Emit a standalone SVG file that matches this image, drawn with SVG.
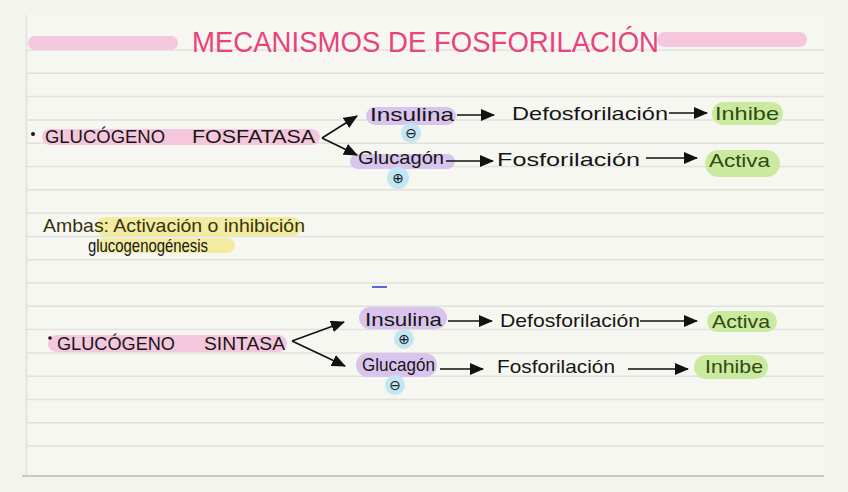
<svg xmlns="http://www.w3.org/2000/svg" width="848" height="492" viewBox="0 0 848 492">
<defs>
<marker id="ah" markerUnits="userSpaceOnUse" markerWidth="14" markerHeight="12" refX="13" refY="6" orient="auto">
<path d="M0,0 L14,6 L0,12 z" fill="#111"/>
</marker>
<style>
.t{font-family:"Liberation Sans","DejaVu Sans",sans-serif;font-size:19px;fill:#161616}
.title{font-family:"Liberation Sans","DejaVu Sans",sans-serif;font-size:29px;fill:#e8437c}
.g{fill:#2e4a12}
.amb{fill:#34330f}
.line{stroke:#e1e1dc;stroke-width:1.5}
.c{stroke:#111;stroke-width:1.6;fill:none;marker-end:url(#ah)}
.pk{fill:#f4c7dc}
.pu{fill:#d9c4ee}
.bl{fill:#c2e6f3}
.gr{fill:#cbeaa0}
.ye{fill:#f3eba0}
.sym{font-family:"DejaVu Sans",sans-serif;font-size:14px;fill:#161616}
</style>
</defs>
<rect width="848" height="492" fill="#f4f4ef"/>
<rect x="26" y="15" width="798" height="461" fill="#f7f7f2"/>
<line x1="26.5" y1="15" x2="26.5" y2="476" stroke="#e4e4e0" stroke-width="2"/>
<g id="lines">
<line class="line" x1="27" y1="50" x2="824" y2="50"/>
<line class="line" x1="27" y1="73.3" x2="824" y2="73.3"/>
<line class="line" x1="27" y1="96.6" x2="824" y2="96.6"/>
<line class="line" x1="27" y1="119.9" x2="824" y2="119.9"/>
<line class="line" x1="27" y1="143.2" x2="824" y2="143.2"/>
<line class="line" x1="27" y1="166.5" x2="824" y2="166.5"/>
<line class="line" x1="27" y1="189.8" x2="824" y2="189.8"/>
<line class="line" x1="27" y1="213.1" x2="824" y2="213.1"/>
<line class="line" x1="27" y1="236.4" x2="824" y2="236.4"/>
<line class="line" x1="27" y1="259.7" x2="824" y2="259.7"/>
<line class="line" x1="27" y1="283" x2="824" y2="283"/>
<line class="line" x1="27" y1="306.3" x2="824" y2="306.3"/>
<line class="line" x1="27" y1="329.6" x2="824" y2="329.6"/>
<line class="line" x1="27" y1="352.9" x2="824" y2="352.9"/>
<line class="line" x1="27" y1="376.2" x2="824" y2="376.2"/>
<line class="line" x1="27" y1="399.5" x2="824" y2="399.5"/>
<line class="line" x1="27" y1="422.8" x2="824" y2="422.8"/>
<line class="line" x1="27" y1="446.1" x2="824" y2="446.1"/>
<line x1="22" y1="476" x2="824" y2="476" stroke="#c9c9c4" stroke-width="2"/>
</g>
<g id="title">
<rect class="pk" x="28" y="36" width="150" height="14" rx="7"/>
<rect class="pk" x="657" y="32" width="150" height="15" rx="7.5"/>
<text class="title" x="192" y="52" textLength="467" lengthAdjust="spacingAndGlyphs">MECANISMOS DE FOSFORILACIÓN</text>
</g>
<g id="glucogeno-fosfatasa">
<rect class="pk" x="42" y="129" width="278" height="16" rx="8"/>
<circle cx="33" cy="134" r="2" fill="#161616"/>
<text class="t" y="143"><tspan x="45" textLength="120" lengthAdjust="spacingAndGlyphs">GLUCÓGENO</tspan><tspan x="192" textLength="123" lengthAdjust="spacingAndGlyphs">FOSFATASA</tspan></text>
</g>
<g id="insulina-1">
<rect class="pu" x="366" y="107" width="90" height="18" rx="9"/>
<circle class="bl" cx="411" cy="133" r="10"/>
<text class="t" x="370" y="121" textLength="84" lengthAdjust="spacingAndGlyphs">Insulina</text>
<text class="sym" x="411" y="138" text-anchor="middle">⊖</text>
</g>
<g id="defosforilacion-1">
<text class="t" x="512" y="120" textLength="156" lengthAdjust="spacingAndGlyphs">Defosforilación</text>
</g>
<g id="inhibe-1">
<rect class="gr" x="712" y="102" width="71" height="23" rx="11.5"/>
<text class="t g" x="715" y="120" textLength="64" lengthAdjust="spacingAndGlyphs">Inhibe</text>
</g>
<g id="glucagon-1">
<rect class="pu" x="350" y="154" width="105" height="15" rx="7.5"/>
<circle class="bl" cx="398" cy="178" r="11"/>
<text class="t" x="358" y="164" textLength="86" lengthAdjust="spacingAndGlyphs">Glucagón</text>
<text class="sym" x="398" y="183" text-anchor="middle">⊕</text>
</g>
<g id="fosforilacion-1">
<text class="t" x="497" y="166" textLength="143" lengthAdjust="spacingAndGlyphs">Fosforilación</text>
</g>
<g id="activa-1">
<rect class="gr" x="705" y="150" width="75" height="27" rx="13.5"/>
<text class="t g" x="709" y="167" textLength="61" lengthAdjust="spacingAndGlyphs">Activa</text>
</g>
<g id="ambas">
<rect class="ye" x="96" y="217" width="206" height="19" rx="9.5"/>
<rect class="ye" x="96" y="238" width="139" height="15" rx="7.5"/>
<text class="t amb" x="43" y="232" font-size="18" textLength="262" lengthAdjust="spacingAndGlyphs">Ambas: Activación o inhibición</text>
<text class="t" x="88" y="252" font-size="14" textLength="120" lengthAdjust="spacingAndGlyphs">glucogenogénesis</text>
</g>
<line x1="372" y1="287" x2="387" y2="287" stroke="#2233dd" stroke-width="1.5"/>
<g id="glucogeno-sintasa">
<rect class="pk" x="48" y="335" width="239" height="17" rx="8.5"/>
<circle cx="50" cy="338" r="1.8" fill="#161616"/>
<text class="t" y="350"><tspan x="57" textLength="118" lengthAdjust="spacingAndGlyphs">GLUCÓGENO</tspan><tspan x="204" textLength="81" lengthAdjust="spacingAndGlyphs">SINTASA</tspan></text>
</g>
<g id="insulina-2">
<rect class="pu" x="359" y="307" width="88" height="22" rx="11"/>
<circle class="bl" cx="404" cy="339" r="10"/>
<text class="t" x="365" y="326" font-size="18" textLength="77" lengthAdjust="spacingAndGlyphs">Insulina</text>
<text class="sym" x="404" y="344" text-anchor="middle">⊕</text>
</g>
<g id="defosforilacion-2">
<text class="t" x="500" y="327" textLength="140" lengthAdjust="spacingAndGlyphs">Defosforilación</text>
</g>
<g id="activa-2">
<rect class="gr" x="707" y="311" width="70" height="21" rx="10.5"/>
<text class="t g" x="712" y="328" textLength="58" lengthAdjust="spacingAndGlyphs">Activa</text>
</g>
<g id="glucagon-2">
<rect class="pu" x="356" y="353" width="81" height="24" rx="12"/>
<circle class="bl" cx="395" cy="385" r="10"/>
<text class="t" x="362" y="371" textLength="73" lengthAdjust="spacingAndGlyphs">Glucagón</text>
<text class="sym" x="395" y="390" text-anchor="middle">⊖</text>
</g>
<g id="fosforilacion-2">
<text class="t" x="497" y="373" textLength="118" lengthAdjust="spacingAndGlyphs">Fosforilación</text>
</g>
<g id="inhibe-2">
<rect class="gr" x="694" y="355" width="74" height="24" rx="12"/>
<text class="t g" x="705" y="373" textLength="58" lengthAdjust="spacingAndGlyphs">Inhibe</text>
</g>
<g id="connectors">
<path class="c" d="M322,138 L357,116"/>
<path class="c" d="M322,138 L357,155"/>
<path class="c" d="M457,115 L494,115"/>
<path class="c" d="M669,113 L707,113"/>
<path class="c" d="M446,161 L493,161"/>
<path class="c" d="M646,158 L697,158"/>
<path class="c" d="M292,341 L344,322"/>
<path class="c" d="M292,341 L345,366"/>
<path class="c" d="M448,321 L492,321"/>
<path class="c" d="M640,321 L697,321"/>
<path class="c" d="M440,369 L483,369"/>
<path class="c" d="M628,369 L688,369"/>
</g>
</svg>
